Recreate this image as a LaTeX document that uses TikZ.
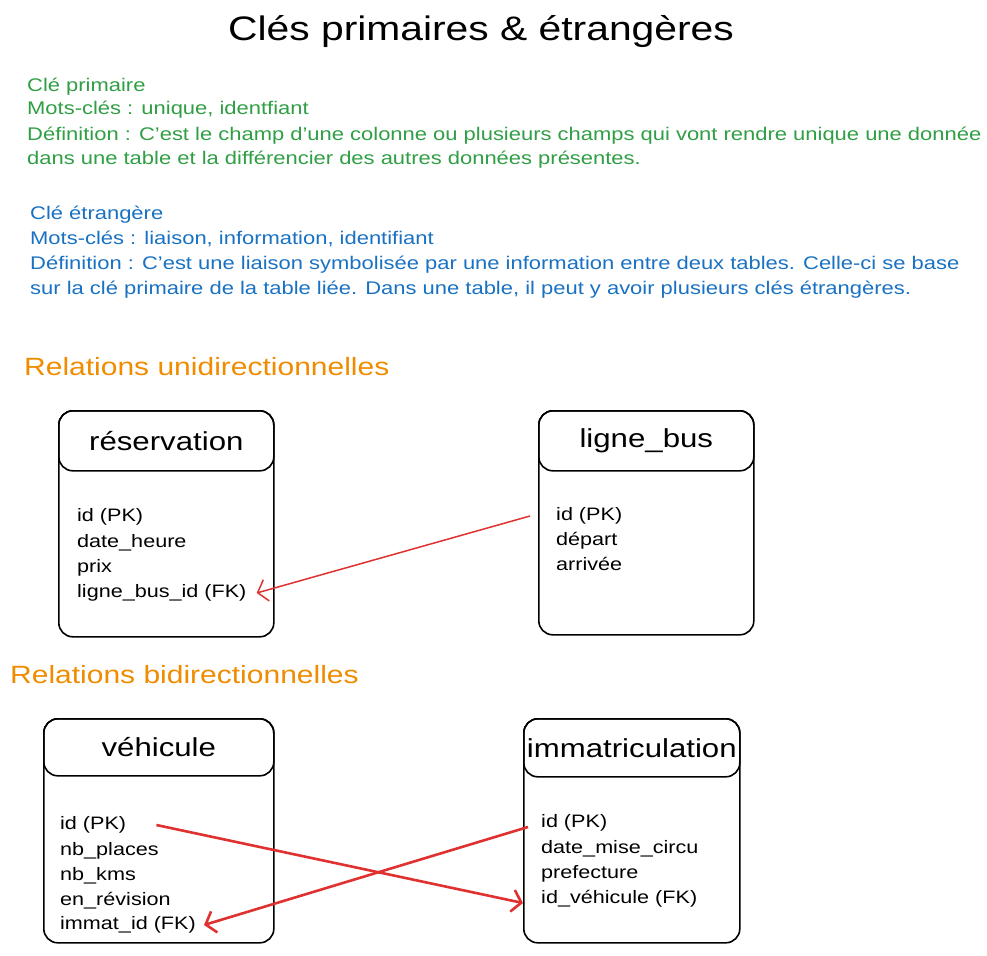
\documentclass[tikz,border=0pt]{standalone}
\usepackage{fontspec}
\setmainfont[FakeStretch=1.2]{Liberation Sans}
\usetikzlibrary{arrows.meta}
\definecolor{keygreen}{HTML}{2F9E44}
\definecolor{keyblue}{HTML}{1971C2}
\definecolor{relorange}{HTML}{F08C00}
\definecolor{linkred}{HTML}{E03131}

\begin{document}
\begin{tikzpicture}[x=1pt, y=-1pt,
    tablebox/.style={rectangle, draw, line width=1.6pt, rounded corners=14pt, anchor=north west, inner sep=0pt, minimum width=215pt},
    header/.style={tablebox, minimum height=60pt, font=\fontsize{26}{30}\selectfont},
    field/.style={anchor=west, inner sep=0pt, text height=13pt, text depth=4pt, font=\fontsize{18}{22}\selectfont},
    note/.style={field, font=\fontsize{18.3}{22}\selectfont},
    section/.style={anchor=west, inner sep=0pt, text=relorange, font=\fontsize{25}{30}\selectfont},
    link/.style={-{Straight Barb[length=9pt, width=22pt]}, draw=linkred, line width=1.5pt}
]
\useasboundingbox (0,0) rectangle (987,955);

% Title
\node[font=\fontsize{34}{40}\selectfont] (title) at (481,32) {Clés primaires \& étrangères};

% Primary key note
\node[note, text=keygreen] (pk1) at (27,87) {Clé primaire};
\node[note, text=keygreen] (pk2) at (27,110) {Mots-clés : unique, identfiant};
\node[note, text=keygreen] (pk3) at (27,136) {Définition : C'est le champ d'une colonne ou plusieurs champs qui vont rendre unique une donnée};
\node[note, text=keygreen] (pk4) at (27,160) {dans une table et la différencier des autres données présentes.};

% Foreign key note
\node[note, text=keyblue] (fk1) at (30,215) {Clé étrangère};
\node[note, text=keyblue] (fk2) at (30,240) {Mots-clés : liaison, information, identifiant};
\node[note, text=keyblue] (fk3) at (30,265) {Définition : C'est une liaison symbolisée par une information entre deux tables. Celle-ci se base};
\node[note, text=keyblue] (fk4) at (30,290) {sur la clé primaire de la table liée. Dans une table, il peut y avoir plusieurs clés étrangères.};

% Sections
\node[section] (uni) at (24,367) {Relations unidirectionnelles};
\node[section] (bi) at (10,675) {Relations bidirectionnelles};

% réservation table
\node[tablebox, minimum height=226pt] (resa) at (58,410) {};
\node[header] (resahead) at (58,410) {réservation};
\node[field] (resapk) at (77,517) {id (PK)};
\node[field] (resadate) at (77,543) {date\_heure};
\node[field] (resaprix) at (77,568) {prix};
\node[field] (resafk) at (77,593) {ligne\_bus\_id (FK)};

% ligne_bus table
\node[tablebox, minimum height=224pt] (bus) at (538,410) {};
\node[header] (bushead) at (538,410) {ligne\_bus};
\node[field] (buspk) at (556,516) {id (PK)};
\node[field] (busdep) at (556,541) {départ};
\node[field] (busarr) at (556,566) {arrivée};

% véhicule table
\node[tablebox, minimum width=230pt, minimum height=224pt] (veh) at (43,718) {};
\node[header, minimum width=230pt, minimum height=57pt] (vehhead) at (43,718) {véhicule};
\node[field] (vehpk) at (60,825) {id (PK)};
\node[field] (vehplaces) at (60,851) {nb\_places};
\node[field] (vehkms) at (60,876) {nb\_kms};
\node[field] (vehrev) at (60,901) {en\_révision};
\node[field] (vehfk) at (60,925) {immat\_id (FK)};

% immatriculation table
\node[tablebox, minimum width=216pt, minimum height=224pt] (imm) at (523,718) {};
\node[header, minimum width=216pt, minimum height=58pt] (immhead) at (523,718) {immatriculation};
\node[field] (immpk) at (541,823) {id (PK)};
\node[field] (immdate) at (541,849) {date\_mise\_circu};
\node[field] (immpref) at (541,874) {prefecture};
\node[field] (immfk) at (541,899) {id\_véhicule (FK)};

% Links
\draw[link] ([xshift=-26pt]buspk.west) -- ([xshift=10pt]resafk.east);
\draw[link, line width=2.6pt] ([xshift=30pt]vehpk.east) -- ([xshift=-18pt,yshift=-4pt]immfk.west);
\draw[link, line width=2.6pt] ([xshift=-13pt,yshift=-4pt]immpk.west) -- ([xshift=8pt]vehfk.east);

\end{tikzpicture}
\end{document}
